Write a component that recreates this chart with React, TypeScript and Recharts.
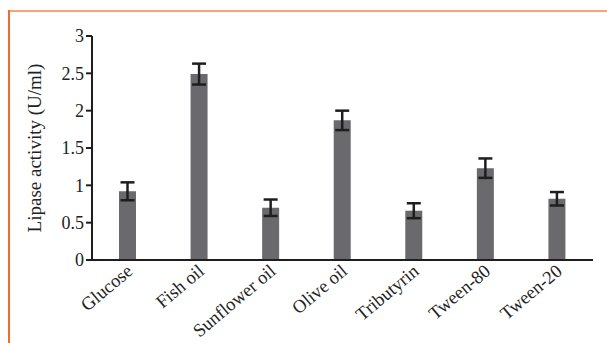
import { BarChart, Bar, XAxis, YAxis, ErrorBar } from "recharts"

const categories = ["Glucose", "Fish oil", "Sunflower oil", "Olive oil", "Tributyrin", "Tween-80", "Tween-20"]
const activity = [0.92, 2.49, 0.7, 1.87, 0.66, 1.23, 0.82]
const errors = [0.12, 0.14, 0.11, 0.13, 0.1, 0.13, 0.09]
const yTicks = [0, 0.5, 1, 1.5, 2, 2.5, 3]

const data = categories.map((name, i) => ({ name, activity: activity[i], err: errors[i] }))

const FONT = "Liberation Serif"
const AXIS = "#1e1e1e"

// rotated category label, anchored at its end under the tick
const SlantTick = (props: any) => {
  const { x, y, payload } = props
  return (
    <g transform={`translate(${x + 6},${y + 5})`}>
      <text
        textAnchor="end"
        transform="rotate(-40)"
        style={{ fontFamily: FONT, fontSize: 18.5 }}
        fill="#222"
      >
        {payload.value}
      </text>
    </g>
  )
}

export default function App() {
  return (
    <div style={{ position: "absolute", left: 0, top: 0, width: 607, height: 343, background: "#fff", fontFamily: FONT }}>
      {/* frame lines */}
      <div style={{ position: "absolute", left: 8, top: 10, width: 599, height: 2, background: "#f9a27c" }} />
      <div style={{ position: "absolute", left: 8, top: 10, width: 2, height: 333, background: "#f26b2d" }} />
      <BarChart
        width={607}
        height={343}
        data={data}
        margin={{ top: 36, right: 14, bottom: 0, left: 0 }}
        style={{ position: "absolute", left: 0, top: 0, fontFamily: FONT }}
      >
        <XAxis
          dataKey="name"
          height={83}
          interval={0}
          tickLine={false}
          axisLine={{ stroke: AXIS, strokeWidth: 2 }}
          tick={<SlantTick />}
        />
        <YAxis
          width={92}
          domain={[0, 3]}
          ticks={yTicks}
          interval={0}
          axisLine={{ stroke: AXIS, strokeWidth: 2 }}
          tickLine={{ stroke: AXIS, strokeWidth: 2 }}
          tickSize={6}
          tick={{ fill: "#222", fontSize: 18, style: { fontFamily: FONT } }}
          label={{
            value: "Lipase activity (U/ml)",
            angle: -90,
            position: "insideLeft",
            offset: 0,
            dx: 34,
            style: { textAnchor: "middle", fill: "#222", fontFamily: FONT, fontSize: 19 },
          }}
        />
        <Bar dataKey="activity" fill="#6a6a6e" barSize={17} isAnimationActive={false}>
          <ErrorBar dataKey="err" width={7} stroke={AXIS} strokeWidth={2.5} />
        </Bar>
      </BarChart>
    </div>
  )
}
